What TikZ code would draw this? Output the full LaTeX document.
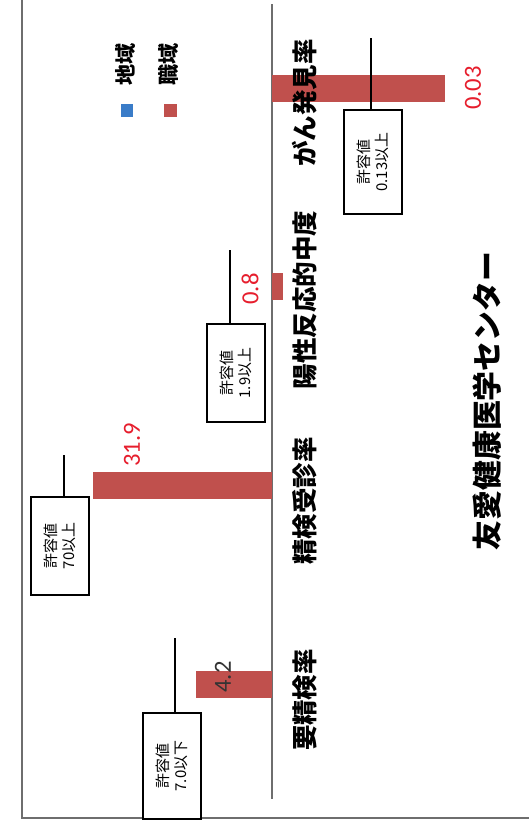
\documentclass[tikz,border=0pt]{standalone}
\usepackage{fontspec}
\setmainfont{Noto Sans CJK JP}
\newfontfamily\numfont{Carlito}
\usepackage{xcolor}

\definecolor{barred}{RGB}{192,80,77}
\definecolor{legblue}{RGB}{58,124,200}
\definecolor{valred}{RGB}{230,30,45}
\definecolor{framegray}{RGB}{110,110,110}

\begin{document}
\begin{tikzpicture}[x=0.02cm,y=-0.02cm]
      \tikzstyle{cat}=[rotate=90, inner sep=0pt,
        font=\fontsize{14.5}{15}\selectfont\bfseries];
      \tikzstyle{val}=[rotate=90, inner sep=0pt, text=valred,
        font=\fontsize{14}{14}\numfont];
      \tikzstyle{tol}=[rotate=90, draw, thick, fill=white, align=center,
        minimum width=1.96cm, minimum height=1.16cm, inner sep=0pt,
        font=\fontsize{8.5}{10.5}\selectfont];
      \tikzstyle{legbox}=[minimum size=0.26cm, inner sep=0pt];
      \tikzstyle{legtext}=[rotate=90, inner sep=0pt,
        font=\fontsize{12}{12}\selectfont\bfseries];
      \useasboundingbox (0,0) rectangle (529,832);
      % frame and axis
      \draw[framegray, thick] (22,0) -- (22,818) -- (529,818);
      \draw[framegray, thick] (272,4) -- (272,799);
      % bars
      \fill[barred] (272,75) rectangle (445,102);
      \fill[barred] (272,273) rectangle (283,300);
      \fill[barred] (93,472) rectangle (272,499);
      \fill[barred] (196,671) rectangle (272,698);
      % values
      \node[val] (vCancer) at (473,88) {0.03};
      \node[val] (vPpv) at (250,289) {0.8};
      \node[val] (vExam) at (132,445) {31.9};
      \node[val, text=black!80] (vNeed) at (223,677) {4.2};
      % categories
      \node[cat] (cCancer) at (305,103) {がん発見率};
      \node[cat] (cPpv) at (305,300) {陽性反応的中度};
      \node[cat] (cExam) at (305,501) {精検受診率};
      \node[cat] (cNeed) at (305,700) {要精検率};
      % legend
      \node[legbox, fill=legblue] (lRegion) at (127,110) {};
      \node[legbox, fill=barred] (lWork) at (170,110) {};
      \node[legtext] (tRegion) at (125,64) {地域};
      \node[legtext] (tWork) at (169,64) {職域};
      % tolerance boxes
      \node[tol, minimum width=2.08cm] (tolCancer) at (373,162) {許容値\\0.13以上};
      \node[tol] (tolPpv) at (236,373) {許容値\\1.9以上};
      \node[tol] (tolExam) at (60,546) {許容値\\70以上};
      \node[tol, minimum width=2.12cm] (tolNeed) at (172,766) {許容値\\7.0以下};
      \coordinate (tCancer) at (371,38);
      \coordinate (tPpv) at (230,250);
      \coordinate (tExam) at (64,455);
      \coordinate (tNeed) at (175,638);
      \draw[thick] (tCancer |- tolCancer.east) -- (tCancer);
      \draw[thick] (tPpv |- tolPpv.east) -- (tPpv);
      \draw[thick] (tExam |- tolExam.east) -- (tExam);
      \draw[thick] (tNeed |- tolNeed.east) -- (tNeed);
      % title
      \node[rotate=90, inner sep=0pt, font=\fontsize{17}{17}\selectfont\bfseries]
        (title) at (487,401) {友愛健康医学センター};
    \end{tikzpicture}
\end{document}
